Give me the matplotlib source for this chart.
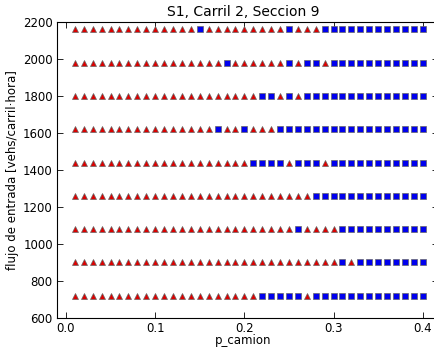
import numpy as np
import matplotlib
matplotlib.use("Agg")
import matplotlib.pyplot as plt

p_camion = [round(0.01 * i, 2) for i in range(1, 41)]
flows = [720, 900, 1080, 1260, 1440, 1620, 1800, 1980, 2160]

# p_camion values drawn as blue squares for each flow level (others: red triangles)
squares_720 = [0.22, 0.23, 0.24, 0.25, 0.26] + [round(0.28 + 0.01 * i, 2) for i in range(13)]
squares_900 = [0.31] + [round(0.33 + 0.01 * i, 2) for i in range(8)]
squares_1080 = [0.26] + [round(0.31 + 0.01 * i, 2) for i in range(10)]
squares_1260 = [round(0.28 + 0.01 * i, 2) for i in range(13)]
squares_1440 = [0.21, 0.22, 0.23, 0.24, 0.26, 0.27, 0.28] + [round(0.30 + 0.01 * i, 2) for i in range(11)]
squares_1620 = [0.17, 0.20] + [round(0.24 + 0.01 * i, 2) for i in range(17)]
squares_1800 = [0.22, 0.23, 0.25] + [round(0.27 + 0.01 * i, 2) for i in range(14)]
squares_1980 = [0.18, 0.25, 0.27, 0.28] + [round(0.30 + 0.01 * i, 2) for i in range(11)]
squares_2160 = [0.15, 0.25] + [round(0.29 + 0.01 * i, 2) for i in range(12)]

squares = {720: squares_720, 900: squares_900, 1080: squares_1080, 1260: squares_1260,
           1440: squares_1440, 1620: squares_1620, 1800: squares_1800,
           1980: squares_1980, 2160: squares_2160}

fig = plt.figure(figsize=(4.35, 3.52), dpi=100)
ax = fig.add_axes([0.131, 0.0966, 0.875, 0.841])

for f in flows:
    sq = set(squares[f])
    xs_s = [p for p in p_camion if p in sq]
    xs_t = [p for p in p_camion if p not in sq]
    ax.plot(xs_t, [f] * len(xs_t), linestyle='none', marker='^', markersize=5,
            markerfacecolor='#dd0000', markeredgecolor='#666666', markeredgewidth=0.5)
    ax.plot(xs_s, [f] * len(xs_s), linestyle='none', marker='s', markersize=4.8,
            markerfacecolor='#0000ee', markeredgecolor='#666666', markeredgewidth=0.5)

ax.set_xlim(-0.01, 0.4166)
ax.set_ylim(600, 2200)
ax.set_xticks([0.0, 0.1, 0.2, 0.3, 0.4])
ax.set_yticks(range(600, 2201, 200))
ax.tick_params(direction='in', top=True, right=True, labelsize=8.5, length=4, width=0.6, pad=3)
for s in ax.spines.values():
    s.set_linewidth(0.8)
ax.set_title("S1, Carril 2, Seccion 9", fontsize=10, pad=4, x=0.49)
ax.set_xlabel("p_camion", fontsize=8.5, labelpad=2)
ax.xaxis.set_label_coords(0.49, -0.055)
ax.set_ylabel("flujo de entrada [vehs/carril·hora]", fontsize=8.5, labelpad=3)

fig.savefig("out.png", dpi=100)
